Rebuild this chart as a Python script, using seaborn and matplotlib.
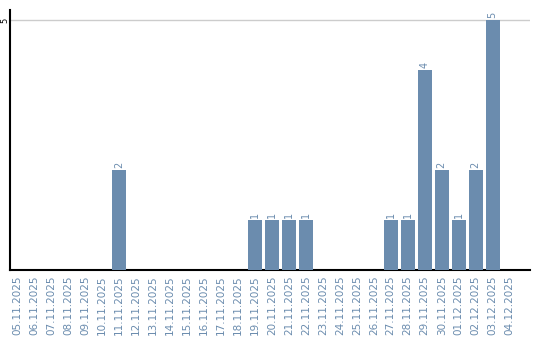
import matplotlib
matplotlib.use("Agg")
import matplotlib.pyplot as plt
import seaborn as sns
import pandas as pd

dates = ["05.11.2025", "06.11.2025", "07.11.2025", "08.11.2025", "09.11.2025",
         "10.11.2025", "11.11.2025", "12.11.2025", "13.11.2025", "14.11.2025",
         "15.11.2025", "16.11.2025", "17.11.2025", "18.11.2025", "19.11.2025",
         "20.11.2025", "21.11.2025", "22.11.2025", "23.11.2025", "24.11.2025",
         "25.11.2025", "26.11.2025", "27.11.2025", "28.11.2025", "29.11.2025",
         "30.11.2025", "01.12.2025", "02.12.2025", "03.12.2025", "04.12.2025"]
counts = [0, 0, 0, 0, 0, 0, 2, 0, 0, 0, 0, 0, 0, 0, 1,
          1, 1, 1, 0, 0, 0, 0, 1, 1, 4, 2, 1, 2, 5, 0]
yticks = [5]

sns.set_theme(style="white")
plt.rcParams['font.family'] = ['DejaVu Sans']

df = pd.DataFrame({"date": dates, "count": counts})
fig = plt.figure(figsize=(5.4, 3.4), dpi=100)
ax = fig.add_axes([10/540, 70/340, 520/540, 260/340])

bar_color = "#6b8cae"
sns.barplot(data=df, x="date", y="count", color=bar_color, width=0.82,
            saturation=1, ax=ax, zorder=3, linewidth=0, edgecolor="none")

for i, v in enumerate(counts):
    if v > 0:
        ax.text(i, v + 0.04, str(v), rotation=90, ha="center", va="bottom",
                fontsize=7, color="#6b8cae")

ax.set_xlim(-0.42, 30.2)
ax.set_ylim(0, 5.2)
ax.set_yticks(yticks)
ax.set_yticklabels([str(t) for t in yticks], rotation=90, va="center", fontsize=6, color="black")
ax.tick_params(axis="y", length=0, pad=0.5)
ax.tick_params(axis="x", length=0, pad=4)
ax.set_xticks(range(len(dates)))
ax.set_xticklabels(dates, rotation=90, fontsize=7.5, color="#6b8cae")
ax.grid(axis="y", color="#cccccc", linewidth=1, zorder=0)
ax.set_xlabel("")
ax.set_ylabel("")
for s in ["top", "right"]:
    ax.spines[s].set_visible(False)
for s in ["left", "bottom"]:
    ax.spines[s].set_color("black")
    ax.spines[s].set_linewidth(1.5)

fig.savefig("out.png", dpi=100)
